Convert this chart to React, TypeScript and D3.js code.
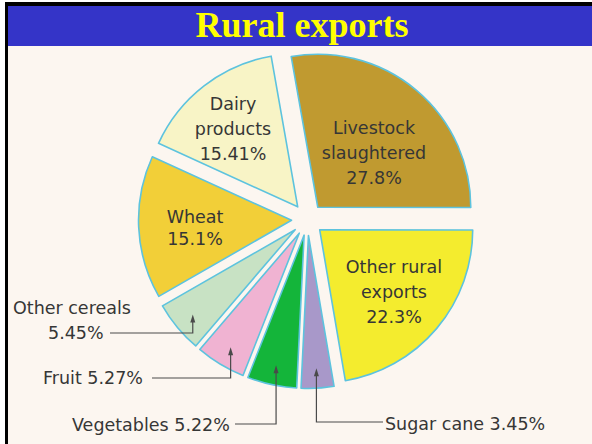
import React from "react";
import * as d3 from "d3";

const title = "Rural exports";
const categories = [
  "Livestock slaughtered",
  "Other rural exports",
  "Sugar cane",
  "Vegetables",
  "Fruit",
  "Other cereals",
  "Wheat",
  "Dairy products",
];
const values = [27.8, 22.3, 3.45, 5.22, 5.27, 5.45, 15.1, 15.41];
const valueLabels = ["27.8%", "22.3%", "3.45%", "5.22%", "5.27%", "5.45%", "15.1%", "15.41%"];
const colors = ["#c09a30", "#f4ec2e", "#a898c9", "#14b53a", "#f0b3d2", "#c8e2c4", "#f2cf38", "#f8f4c6"];

// layout (positions of text only)
const W = 592;
const H = 444;
const CX = 307.5;
const CY = 219.5;
const R = 153;
const EXPLODE = 16;
const FONT = "'DejaVu Sans', sans-serif";
const FS = 17.5;

// inner labels: lines + centre position
const innerLabels: Record<number, { lines: string[]; x: number; y: number }> = {
  0: { lines: ["Livestock", "slaughtered", valueLabels[0]], x: 374, y: 128 },
  1: { lines: ["Other rural", "exports", valueLabels[1]], x: 394, y: 267 },
  6: { lines: ["Wheat", valueLabels[6]], x: 195, y: 217 },
  7: { lines: ["Dairy", "products", valueLabels[7]], x: 233, y: 104 },
};
// outer labels with leader lines
const outerLabels: Record<number, { lines: string[]; tx: number; ty: number; anchor: string; lineY: number; lineX: number }> = {
  5: { lines: ["Other cereals", valueLabels[5]], tx: 13, ty: 308, anchor: "start", lineY: 333, lineX: 110 },
  4: { lines: ["Fruit " + valueLabels[4]], tx: 43, ty: 378, anchor: "start", lineY: 378, lineX: 152 },
  3: { lines: ["Vegetables " + valueLabels[3]], tx: 72, ty: 425, anchor: "start", lineY: 424, lineX: 235 },
  2: { lines: ["Sugar cane " + valueLabels[2]], tx: 385, ty: 424, anchor: "start", lineY: 422, lineX: 383 },
};

export default function App() {
  const start = (-10 * Math.PI) / 180;
  const pie = d3
    .pie<number>()
    .sort(null)
    .value((d) => d)
    .startAngle(start)
    .endAngle(start + 2 * Math.PI);
  const arcs = pie(values);
  const arc = d3.arc<d3.PieArcDatum<number>>().innerRadius(0).outerRadius(R);

  const textColor = "#363636";
  const lineColor = "#4a4a4a";

  return (
    <svg width={W} height={H} style={{ position: "absolute", left: 0, top: 0 }}>
      <rect x={0} y={0} width={W} height={H} fill="#ffffff" />
      <rect x={8} y={45} width={W - 8} height={H - 45} fill="#fcf6f0" />
      <rect x={8} y={6} width={W - 8} height={40} fill="#3434c8" />
      <rect x={5} y={2} width={W - 5} height={4} fill="#000" />
      <rect x={5} y={2} width={3} height={H - 2} fill="#000" />
      <text
        x={302}
        y={37}
        textAnchor="middle"
        fontFamily="'Liberation Serif', 'Times New Roman', serif"
        fontWeight="bold"
        fontSize={36}
        fill="#ffff00"
      >
        {title}
      </text>

      {arcs.map((a, i) => {
        const mid = (a.startAngle + a.endAngle) / 2;
        const ox = CX + EXPLODE * Math.sin(mid);
        const oy = CY - EXPLODE * Math.cos(mid);
        return (
          <path
            key={categories[i]}
            d={arc(a) || ""}
            transform={`translate(${ox},${oy})`}
            fill={colors[i]}
            stroke="#5dc3de"
            strokeWidth={1.6}
            strokeLinejoin="round"
          />
        );
      })}

      {Object.entries(innerLabels).map(([k, l]) => (
        <text
          key={"in" + k}
          x={l.x}
          textAnchor="middle"
          fontFamily={FONT}
          fontSize={FS}
          fill={textColor}
        >
          {l.lines.map((s, j) => (
            <tspan key={j} x={l.x} y={l.y + j * (k === "6" ? 22 : 25)} dy="0.36em">
              {s}
            </tspan>
          ))}
        </text>
      ))}

      {Object.entries(outerLabels).map(([k, l]) => {
        const i = Number(k);
        const a = arcs[i];
        const mid = (a.startAngle + a.endAngle) / 2;
        const ox = CX + EXPLODE * Math.sin(mid);
        const oy = CY - EXPLODE * Math.cos(mid);
        const tipR = 133;
        const tx = ox + tipR * Math.sin(mid);
        const ty = oy - tipR * Math.cos(mid);
        return (
          <g key={"out" + k}>
            <path
              d={`M${l.lineX},${l.lineY}H${tx}V${ty + 6}`}
              fill="none"
              stroke={lineColor}
              strokeWidth={1.2}
            />
            <path d={`M${tx},${ty}L${tx - 2.5},${ty + 8}L${tx + 2.5},${ty + 8}Z`} fill={lineColor} />
            <text fontFamily={FONT} fontSize={FS} fill={textColor} textAnchor={l.anchor}>
              {l.lines.map((s, j) => (
                <tspan key={j} x={j === 0 ? l.tx : l.tx + 35} y={l.ty + j * 25} dy="0.36em">
                  {s}
                </tspan>
              ))}
            </text>
          </g>
        );
      })}
    </svg>
  );
}
